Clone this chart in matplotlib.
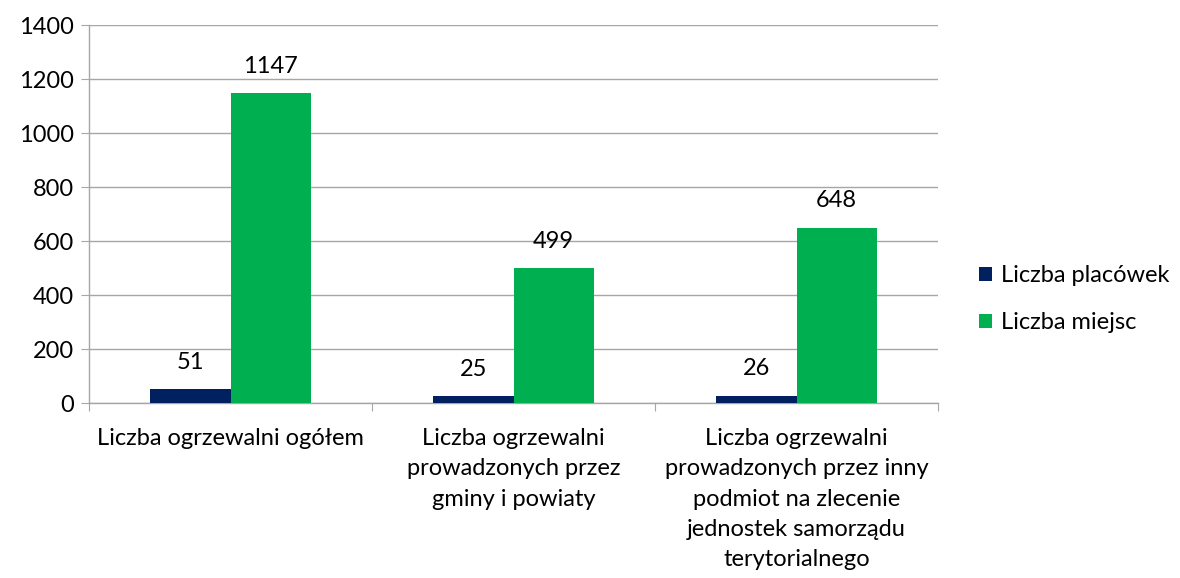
import matplotlib.pyplot as plt
import numpy as np

categories = ['Liczba ogrzewalni ogółem',
              'Liczba ogrzewalni\nprowadzonych przez\ngminy i powiaty',
              'Liczba ogrzewalni\nprowadzonych przez inny\npodmiot na zlecenie\njednostek samorządu\nterytorialnego']
placowek = [51, 25, 26]
miejsc = [1147, 499, 648]
yticks = [0, 200, 400, 600, 800, 1000, 1200, 1400]

plt.rcParams['font.family'] = ['Lato', 'DejaVu Sans']
fs = 17

fig = plt.figure(figsize=(11.8, 5.78), dpi=100)
ax = fig.add_axes([89 / 1180, 1 - 403 / 578, (938 - 89) / 1180, (403 - 25) / 578])

x = np.arange(len(categories))
w = 0.283
b1 = ax.bar(x - w / 2, placowek, w, color='#002060', label='Liczba placówek', zorder=3)
b2 = ax.bar(x + w / 2, miejsc, w, color='#00B050', label='Liczba miejsc', zorder=3)

for bars, vals in ((b1, placowek), (b2, miejsc)):
    for r, v in zip(bars, vals):
        ax.annotate(str(v), (r.get_x() + r.get_width() / 2, v), xytext=(0, 12),
                    textcoords='offset points', ha='center', va='bottom', fontsize=fs)

ax.set_xlim(-0.5, len(categories) - 0.5)
ax.set_ylim(0, 1400)
ax.set_yticks(yticks)
ax.yaxis.grid(True, color='#A6A6A6', linewidth=1, zorder=0)
ax.tick_params(axis='y', length=6, color='#A6A6A6', labelsize=fs, pad=5)

ax.set_xticks(np.arange(len(categories) + 1) - 0.5)
ax.set_xticklabels([])
ax.tick_params(axis='x', which='major', length=6, color='#A6A6A6')
ax.set_xticks(x, minor=True)
ax.set_xticklabels(categories, minor=True, fontsize=fs, linespacing=1.55, va='top')
ax.tick_params(axis='x', which='minor', length=0, pad=18)

for s in ('top', 'right'):
    ax.spines[s].set_visible(False)
for s in ('left', 'bottom'):
    ax.spines[s].set_color('#A6A6A6')
    ax.spines[s].set_linewidth(1)

ax.legend(loc='center left', bbox_to_anchor=(1.023, 0.275), frameon=False, fontsize=fs,
          handlelength=0.55, handleheight=0.55, labelspacing=1.1, handletextpad=0.4)

fig.savefig('out.png', dpi=100)
